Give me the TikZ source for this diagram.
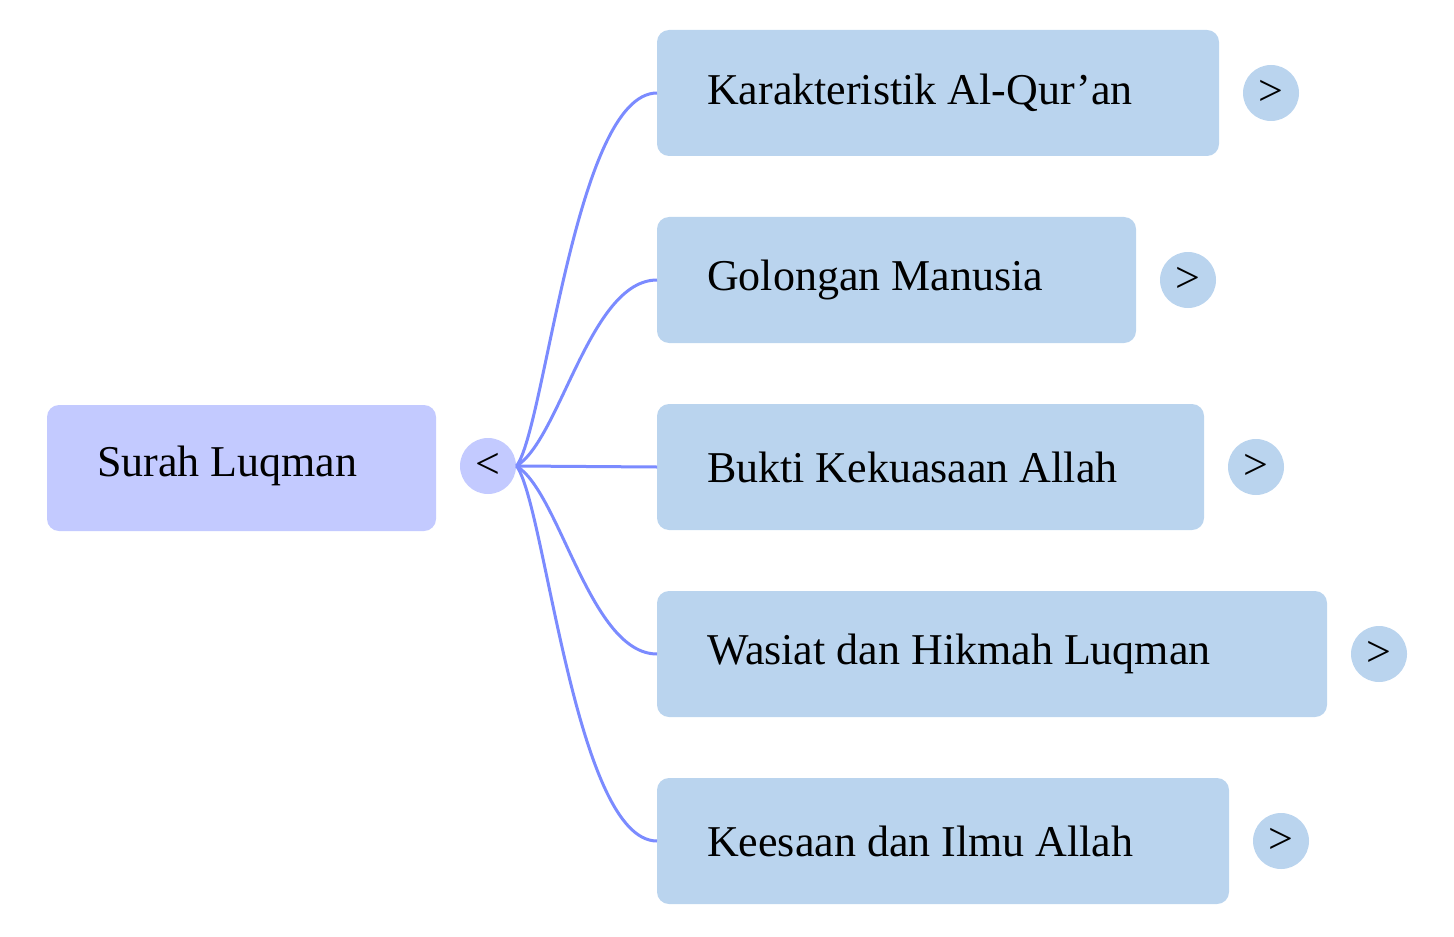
\documentclass[tikz,border=0pt]{standalone}
\usepackage{fontspec}
\setmainfont{Liberation Serif}
\begin{document}
\begin{tikzpicture}[x=0.5pt,y=-0.5pt,
  root/.style={fill=rootc,rounded corners=6pt,inner sep=0pt},
  child/.style={fill=childc,rounded corners=6pt,inner sep=0pt},
  lab/.style={anchor=west,font=\fontsize{22}{26}\selectfont},
  dot/.style={circle,fill=#1,minimum size=28pt,inner sep=0pt,font=\fontsize{22}{26}\selectfont},
  link/.style={draw=linkc,line width=1.5pt}]
\definecolor{rootc}{HTML}{C3CAFF}
\definecolor{childc}{HTML}{BAD4EE}
\definecolor{linkc}{HTML}{7B8BFF}
\useasboundingbox (0,0) rectangle (1454,936);
\fill[root] (47,405) rectangle (436,531);
\node[lab] (r) at (90,466) {Surah Luqman};
\node[dot=rootc] (rc) at (488,466) {<};
\foreach \i/\y/\xr/\t in {1/93/1219/Karakteristik Al-Qur'an,2/280/1136/Golongan Manusia,3/467/1204/Bukti Kekuasaan Allah,4/654/1327/Wasiat dan Hikmah Luqman,5/841/1229/Keesaan dan Ilmu Allah}{
  \fill[child] (657,\y-63) rectangle (\xr,\y+63);
  \coordinate (c\i) at (657,\y);
  \node[lab] (t\i) at (700,\y) {\t};
  \node[dot=childc] (d\i) at (\xr+52,\y) {>};
}
\draw[link] (rc.east) -- (c3);
\draw[link] (rc.east) .. controls (545,430) and (575,93) .. (c1);
\draw[link] (rc.east) .. controls (560,440) and (590,280) .. (c2);
\draw[link] (rc.east) .. controls (560,492) and (590,654) .. (c4);
\draw[link] (rc.east) .. controls (545,502) and (575,841) .. (c5);
\end{tikzpicture}
\end{document}
